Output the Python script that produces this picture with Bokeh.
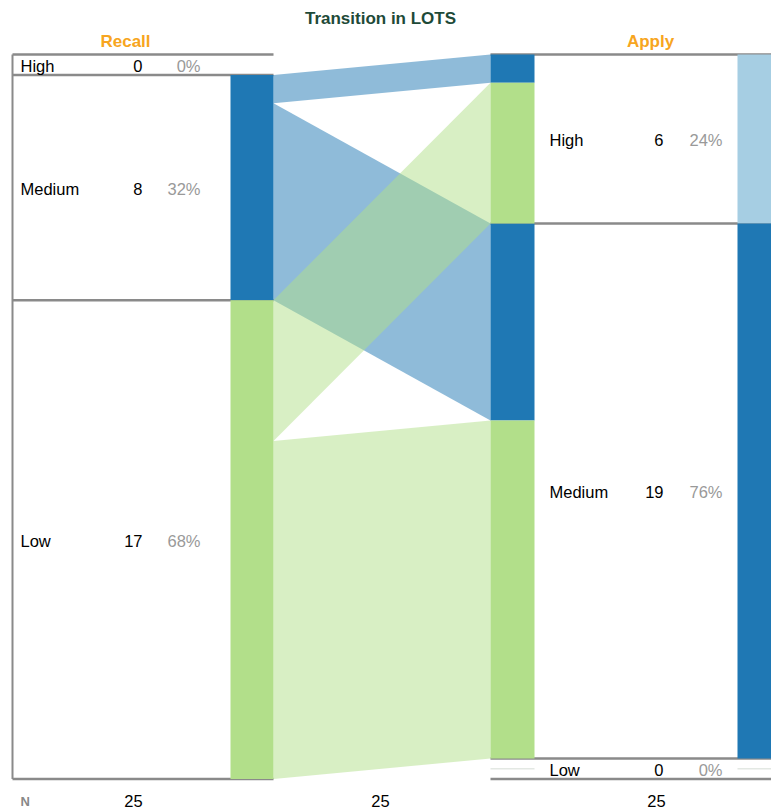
from bokeh.plotting import figure
from bokeh.models import Range1d
from bokeh.core.properties import value
from bokeh.embed import file_html
from bokeh.resources import INLINE

# ---- data ----
title = "Transition in LOTS"
stage_names = ["Recall", "Apply"]
levels = ["High", "Medium", "Low"]
recall_counts = [0, 8, 17]
apply_counts = [6, 19, 0]
flow_source = ["Medium", "Medium", "Low", "Low"]
flow_target = ["High", "Medium", "High", "Medium"]
flow_values = [1, 7, 5, 12]
n_labels = ["25", "25", "25"]
level_colors = {"High": "#a6cee3", "Medium": "#1f78b4", "Low": "#b2df8a"}

FONT = value("Liberation Sans")
W, H = 771, 812
p = figure(width=W, height=H, output_backend="svg", toolbar_location=None,
           x_range=Range1d(0, W), y_range=Range1d(H, 0),
           min_border=0)
p.axis.visible = False
p.grid.visible = False
p.outline_line_color = None
p.background_fill_color = "white"

total = sum(recall_counts)
top = 54.0
unit = 704.0 / total
zero_h = 20.5


def rows(counts):
    out = []
    y = top
    for c in counts:
        h = c * unit if c > 0 else zero_h
        out.append((y, y + h))
        y += h
    return out


left_rows = rows(recall_counts)
right_rows = rows(apply_counts)

# panel geometry
L_x0, L_bar0, L_bar1 = 12, 230, 273
R_bar0, R_bar1, R_out0, R_x1 = 490, 534, 737, 800
GRAY = "#8a8a8a"

# separator lines (under bars)
for (y0, y1) in left_rows:
    p.line([L_x0, L_bar1], [y0, y0], line_color=GRAY, line_width=2.5)
p.line([L_x0, L_bar1], [left_rows[-1][1]] * 2, line_color=GRAY, line_width=2.5)
p.line([L_x0, L_x0], [top, left_rows[-1][1]], line_color=GRAY, line_width=2)
for (y0, y1) in right_rows:
    p.line([R_bar0, R_x1], [y0, y0], line_color=GRAY, line_width=2.5)
p.line([R_bar0, R_x1], [right_rows[-1][1]] * 2, line_color=GRAY, line_width=2.5)

# flow segments
src_off = {lv: left_rows[i][0] for i, lv in enumerate(levels)}
tgt_off = {lv: right_rows[i][0] for i, lv in enumerate(levels)}
left_pos = {}
for s in levels:
    for t in levels:
        for k in range(len(flow_values)):
            if flow_source[k] == s and flow_target[k] == t:
                y0 = src_off[s]
                y1 = y0 + flow_values[k] * unit
                src_off[s] = y1
                left_pos[k] = (y0, y1)
right_pos = {}
for t in levels:
    for s in levels:
        for k in range(len(flow_values)):
            if flow_source[k] == s and flow_target[k] == t:
                y0 = tgt_off[t]
                y1 = y0 + flow_values[k] * unit
                tgt_off[t] = y1
                right_pos[k] = (y0, y1)

# draw flows: blue first, then green
for s in levels:
    for k in range(len(flow_values)):
        if flow_source[k] != s:
            continue
        (a0, a1), (b0, b1) = left_pos[k], right_pos[k]
        p.patch([L_bar1, R_bar0, R_bar0, L_bar1], [a0, b0, b1, a1],
                fill_color=level_colors[s], fill_alpha=0.5, line_color=None)
        p.quad(left=R_bar0, right=R_bar1, top=b0, bottom=b1,
               fill_color=level_colors[s], line_color=None)

# left bar (colored by recall level)
for i, lv in enumerate(levels):
    if recall_counts[i] > 0:
        y0, y1 = left_rows[i]
        p.quad(left=L_bar0, right=L_bar1, top=y0, bottom=y1,
               fill_color=level_colors[lv], line_color=None)

# right outer bar (colored by apply level)
for i, lv in enumerate(levels):
    y0, y1 = right_rows[i]
    if apply_counts[i] > 0:
        p.quad(left=R_out0, right=R_x1, top=y0, bottom=y1,
               fill_color=level_colors[lv], line_color=None)
    else:
        ym = (y0 + y1) / 2
        p.line([R_bar0, R_bar1], [ym, ym], line_color="#e3e8e3", line_width=1.5)
        p.line([R_out0, R_x1], [ym, ym], line_color="#e3e8e3", line_width=1.5)


def txt(x, y, s, color="black", size="16.5px", align="left", style="normal"):
    p.text(x=[x], y=[y], text=[s], text_color=color, text_font=FONT,
           text_font_size=size, text_align=align, text_baseline="middle",
           text_font_style=style)


# row labels
for i, lv in enumerate(levels):
    y0, y1 = left_rows[i]
    ym = (y0 + y1) / 2 + 1
    txt(20, ym, lv)
    txt(142, ym, str(recall_counts[i]), align="right")
    txt(200, ym, f"{round(100 * recall_counts[i] / total)}%", color="#999999", align="right")
for i, lv in enumerate(levels):
    y0, y1 = right_rows[i]
    ym = (y0 + y1) / 2 + 1
    txt(549, ym, lv)
    txt(663, ym, str(apply_counts[i]), align="right")
    txt(722, ym, f"{round(100 * apply_counts[i] / total)}%", color="#999999", align="right")

# titles
txt(380, 18, title, color="#1e4a38", size="17px", align="center", style="bold")
txt(125, 41, stage_names[0], color="#f7a520", size="17px", align="center", style="bold")
txt(650, 41, stage_names[1], color="#f7a520", size="17px", align="center", style="bold")

# N row
txt(20, 801, "N", color="#888888", size="13px", style="bold")
for x, s in zip([133, 380, 656], n_labels):
    txt(x, 800, s, align="center")

open("out.html", "w").write(file_html(p, INLINE))
